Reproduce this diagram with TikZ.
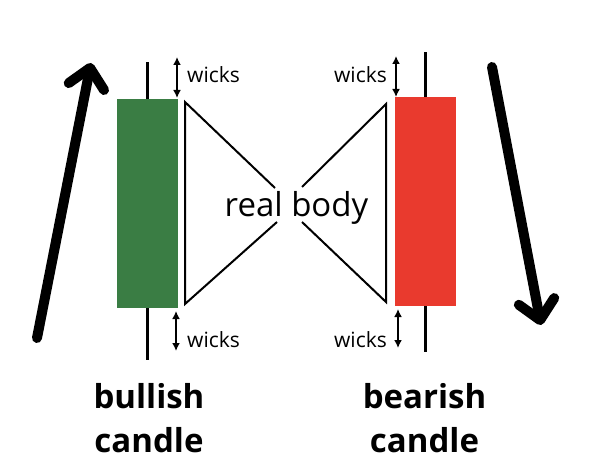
\documentclass[tikz,border=0pt]{standalone}
\usepackage{fontspec}
\setmainfont{Open Sans}
\usetikzlibrary{arrows.meta, positioning}
\definecolor{bullgreen}{HTML}{3A7D44}
\definecolor{bearred}{HTML}{E93A2E}

\begin{document}
\begin{tikzpicture}[
    x=1pt, y=-1pt,
    body/.style={minimum width=61pt, minimum height=209pt, inner sep=0pt, outer sep=0pt},
    wick/.style={line width=2.4pt},
    edge/.style={line width=2pt, line join=miter},
    span/.style={{Latex[length=8pt,width=8pt]}-{Latex[length=8pt,width=8pt]}, line width=2.2pt},
    note/.style={font=\fontsize{21}{24}\selectfont, inner sep=0pt},
    trend/.style={line width=10pt, line cap=round, line join=round, -{Straight Barb[length=19pt,width=36pt,round]}},
    title/.style={font=\fontsize{33}{44}\selectfont\bfseries, align=center, inner sep=0pt}
]
\useasboundingbox (0,0) rectangle (612,462);

% candle bodies
\node[body, fill=bullgreen] (bull) at (147.5,203.5) {};
\node[body, fill=bearred] (bear) at (425.5,201.5) {};

% wick ends
\coordinate (bulltop) at (147.5,62);
\coordinate (bullbot) at (147.5,360);
\coordinate (beartop) at (425.5,52);
\coordinate (bearbot) at (425.5,352);
\draw[wick] (bull.north) -- (bulltop);
\draw[wick] (bull.south) -- (bullbot);
\draw[wick] (bear.north) -- (beartop);
\draw[wick] (bear.south) -- (bearbot);

% wick markers
\coordinate (s1a) at (177,57);  \coordinate (s1b) at (177,98);
\coordinate (s2a) at (176,311); \coordinate (s2b) at (176,351);
\coordinate (s3a) at (396,56);  \coordinate (s3b) at (396,97);
\coordinate (s4a) at (398,309); \coordinate (s4b) at (398,348);
\draw[span] (s1a) -- (s1b);
\draw[span] (s2a) -- (s2b);
\draw[span] (s3a) -- (s3b);
\draw[span] (s4a) -- (s4b);
\node[note, anchor=base west] (w1) at (187,83) {wicks};
\node[note, anchor=base west] (w2) at (187,347) {wicks};
\node[note, anchor=base east] (w3) at (387,83) {wicks};
\node[note, anchor=base east] (w4) at (387,347) {wicks};

% real body brackets
\coordinate (lt) at (185,102);  \coordinate (lb) at (185,304);
\coordinate (lte) at (275,188); \coordinate (lbe) at (277,222);
\coordinate (rt) at (386,104);  \coordinate (rb) at (386,302);
\coordinate (rte) at (302,187); \coordinate (rbe) at (302,222);
\draw[edge] (lte) -- (lt) -- (lb) -- (lbe);
\draw[edge] (rte) -- (rt) -- (rb) -- (rbe);
\node[font=\fontsize{33}{36}\selectfont, inner sep=0pt, anchor=base] (real) at (296.5,217) {real body};

% trend arrows
\coordinate (upfrom) at (37,338);  \coordinate (upto) at (91,63);
\coordinate (dnfrom) at (492,67);  \coordinate (dnto) at (541,325);
\draw[trend] (upfrom) -- (upto);
\draw[trend] (dnfrom) -- (dnto);

% labels
\node[title, anchor=base] (bulllab) at (149,452) {bullish\\candle};
\node[title, anchor=base] (bearlab) at (424.5,452) {bearish\\candle};

\end{tikzpicture}
\end{document}
